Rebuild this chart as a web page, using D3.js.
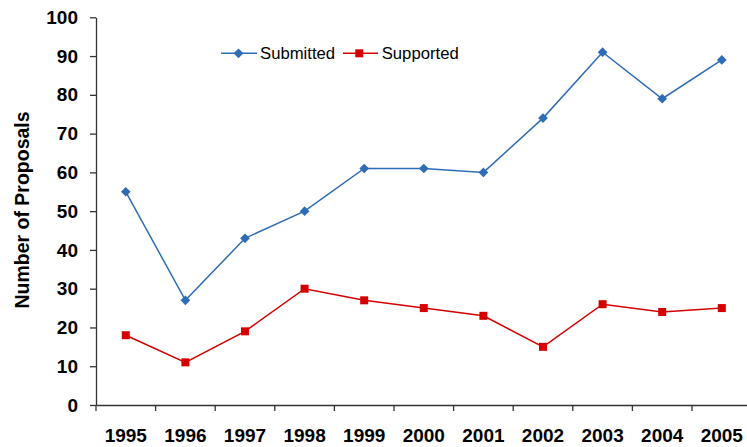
<!DOCTYPE html>
<html>
<head>
<meta charset="utf-8">
<script src="https://cdn.jsdelivr.net/npm/d3@7"></script>
<style>
  html, body { margin: 0; padding: 0; background: #fff; }
  svg { display: block; }
</style>
</head>
<body>
<svg id="chart" width="747" height="447"></svg>
<script>
// Proposal counts per year
const years = ["1995","1996","1997","1998","1999","2000","2001","2002","2003","2004","2005"];
const submitted = [55, 27, 43, 50, 61, 61, 60, 74, 91, 79, 89];
const supported = [18, 11, 19, 30, 27, 25, 23, 15, 26, 24, 25];
const yTicks = [0, 10, 20, 30, 40, 50, 60, 70, 80, 90, 100];
const seriesNames = ["Submitted", "Supported"];

(function () {
  const svg = d3.select("#chart");
  const mLeft = 96, mTop = 17.3, mBottom = 405, mRight = 96 + 11 * 59.6;

  const x = d3.scaleBand().domain(years).range([mLeft, mRight]).padding(0);
  const y = d3.scaleLinear().domain([0, 100]).range([mBottom, mTop]);

  const axisColor = "#333";
  const font = "Arial, 'Liberation Sans', Helvetica, sans-serif";

  // Y axis
  const yAxis = svg.append("g")
    .attr("transform", `translate(${mLeft},0)`)
    .call(d3.axisLeft(y).tickValues(yTicks).tickSize(6).tickSizeOuter(0).tickPadding(12));
  yAxis.select(".domain").attr("stroke", axisColor).attr("stroke-width", 1.3);
  yAxis.selectAll(".tick line").attr("stroke", axisColor).attr("stroke-width", 1.3);
  yAxis.selectAll(".tick text")
    .attr("font-family", font).attr("font-size", 19).attr("font-weight", "bold").attr("fill", "#000");

  // X axis with ticks at category boundaries
  const xAxis = svg.append("g")
    .attr("transform", `translate(0,${mBottom})`)
    .call(d3.axisBottom(x).tickSize(0).tickSizeOuter(0).tickPadding(24));
  xAxis.select(".domain").attr("stroke", axisColor).attr("stroke-width", 1.3);
  xAxis.selectAll(".tick text")
    .attr("font-family", font).attr("font-size", 19).attr("font-weight", "bold").attr("fill", "#000");
  xAxis.selectAll(".bound")
    .data(years)
    .enter().append("line")
    .attr("class", "bound")
    .attr("x1", d => x(d)).attr("x2", d => x(d))
    .attr("y1", 0).attr("y2", 6)
    .attr("stroke", axisColor).attr("stroke-width", 1.3);

  // Y axis title
  svg.append("text")
    .attr("transform", "translate(29,210) rotate(-90)")
    .attr("text-anchor", "middle")
    .attr("font-family", font).attr("font-size", 19.5).attr("font-weight", "bold")
    .text("Number of Proposals");

  const cx = d => x(d) + x.bandwidth() / 2;
  const line = d3.line().x((d, i) => cx(years[i])).y(d => y(d));

  const blue = "#2e6db5", red = "#d40000";

  // Submitted series
  svg.append("path").datum(submitted)
    .attr("d", line).attr("fill", "none").attr("stroke", blue).attr("stroke-width", 1.5);
  svg.selectAll(".dia").data(submitted).enter().append("path")
    .attr("class", "dia")
    .attr("d", d3.symbol().type(d3.symbolDiamond2).size(60))
    .attr("transform", (d, i) => `translate(${cx(years[i])},${y(d)})`)
    .attr("fill", blue);

  // Supported series
  svg.append("path").datum(supported)
    .attr("d", line).attr("fill", "none").attr("stroke", red).attr("stroke-width", 1.5);
  svg.selectAll(".sq").data(supported).enter().append("rect")
    .attr("class", "sq")
    .attr("x", (d, i) => cx(years[i]) - 4).attr("y", d => y(d) - 4)
    .attr("width", 8).attr("height", 8)
    .attr("fill", red);

  // Legend
  const legend = svg.append("g").attr("transform", "translate(221,53.3)");
  const lg1 = legend.append("g");
  lg1.append("line").attr("x1", 0).attr("x2", 36).attr("stroke", blue).attr("stroke-width", 1.5);
  lg1.append("path").attr("d", d3.symbol().type(d3.symbolDiamond2).size(60)).attr("transform", "translate(17.5,0)").attr("fill", blue);
  lg1.append("text").attr("x", 39).attr("y", 6).attr("font-family", font).attr("font-size", 16.7).text(seriesNames[0]);
  const lg2 = legend.append("g").attr("transform", "translate(122,0)");
  lg2.append("line").attr("x1", 0).attr("x2", 35).attr("stroke", red).attr("stroke-width", 1.5);
  lg2.append("rect").attr("x", 12.3).attr("y", -4).attr("width", 8).attr("height", 8).attr("fill", red);
  lg2.append("text").attr("x", 38.7).attr("y", 6).attr("font-family", font).attr("font-size", 16.7).text(seriesNames[1]);
})();
</script>
</body>
</html>
